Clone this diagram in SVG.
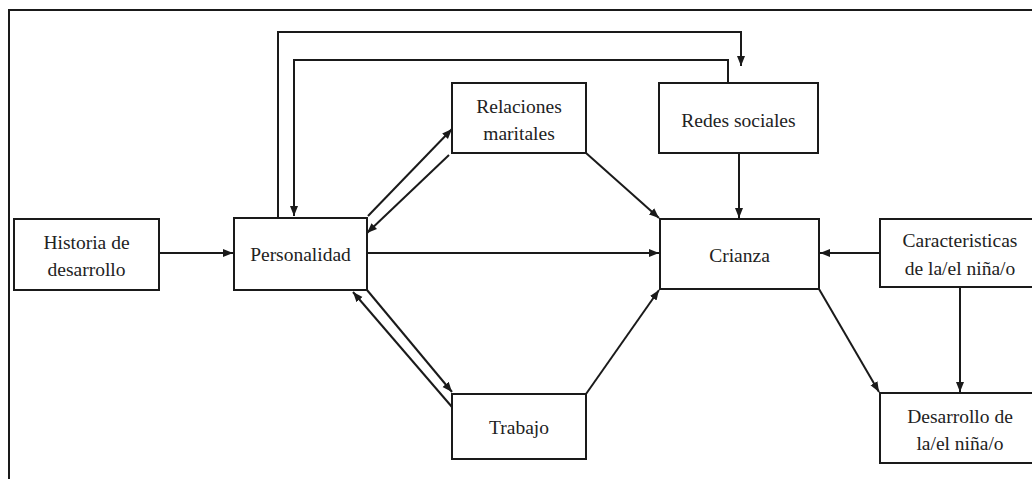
<svg xmlns="http://www.w3.org/2000/svg" width="1032" height="479" viewBox="0 0 1032 479">
<style>
.box{fill:#fff;stroke:#1a1a1a;stroke-width:2}
.t{font-family:"Liberation Serif","Times New Roman",serif;font-size:19.5px;fill:#222;text-anchor:middle}
.c{fill:none;stroke:#1a1a1a;stroke-width:2}
</style>
<defs>
<marker id="ah" markerUnits="userSpaceOnUse" markerWidth="10" markerHeight="10" viewBox="0 0 10 10" refX="10" refY="5" orient="auto">
<path d="M0,1 L10,5 L0,9 Z" fill="#1a1a1a"/>
</marker>
</defs>
<rect x="9" y="10" width="1040" height="480" fill="#fff" stroke="#1a1a1a" stroke-width="2"/>
<g id="connectors">
<path class="c" d="M278,218 V32 H741 V66" marker-end="url(#ah)"/>
<path class="c" d="M728,83 V60 H294 V216" marker-end="url(#ah)"/>
<path class="c" d="M159,253 H233" marker-end="url(#ah)"/>
<path class="c" d="M367,253 H659" marker-end="url(#ah)"/>
<path class="c" d="M880,253 H820" marker-end="url(#ah)"/>
<path class="c" d="M368,216 L452,129" marker-end="url(#ah)"/>
<path class="c" d="M449,155 L367,233" marker-end="url(#ah)"/>
<path class="c" d="M367,290 L452,392" marker-end="url(#ah)"/>
<path class="c" d="M452,407 L353,292" marker-end="url(#ah)"/>
<path class="c" d="M586,153 L659,218" marker-end="url(#ah)"/>
<path class="c" d="M739,153 V218" marker-end="url(#ah)"/>
<path class="c" d="M586,394 L659,290" marker-end="url(#ah)"/>
<path class="c" d="M819,289 L879,392" marker-end="url(#ah)"/>
<path class="c" d="M960,287 V392" marker-end="url(#ah)"/>
</g>
<g id="historia"><rect class="box" x="14" y="219" width="145" height="71"/><text class="t" x="86.5" y="249">Historia de</text><text class="t" x="86.5" y="276">desarrollo</text></g>
<g id="personalidad"><rect class="box" x="234" y="218" width="133" height="72"/><text class="t" x="300.5" y="261">Personalidad</text></g>
<g id="relaciones"><rect class="box" x="452" y="83" width="134" height="70"/><text class="t" x="519" y="113">Relaciones</text><text class="t" x="519" y="140">maritales</text></g>
<g id="redes"><rect class="box" x="659" y="83" width="159" height="70"/><text class="t" x="738.5" y="127">Redes sociales</text></g>
<g id="crianza"><rect class="box" x="660" y="219" width="159" height="70"/><text class="t" x="739.5" y="262">Crianza</text></g>
<g id="caracteristicas"><rect class="box" x="880" y="219" width="160" height="68"/><text class="t" x="960" y="247">Caracteristicas</text><text class="t" x="960" y="275">de la/el niña/o</text></g>
<g id="trabajo"><rect class="box" x="452" y="394" width="134" height="65"/><text class="t" x="519" y="434">Trabajo</text></g>
<g id="desarrollo"><rect class="box" x="880" y="393" width="160" height="70"/><text class="t" x="960" y="423">Desarrollo de</text><text class="t" x="960" y="450">la/el niña/o</text></g>
</svg>
